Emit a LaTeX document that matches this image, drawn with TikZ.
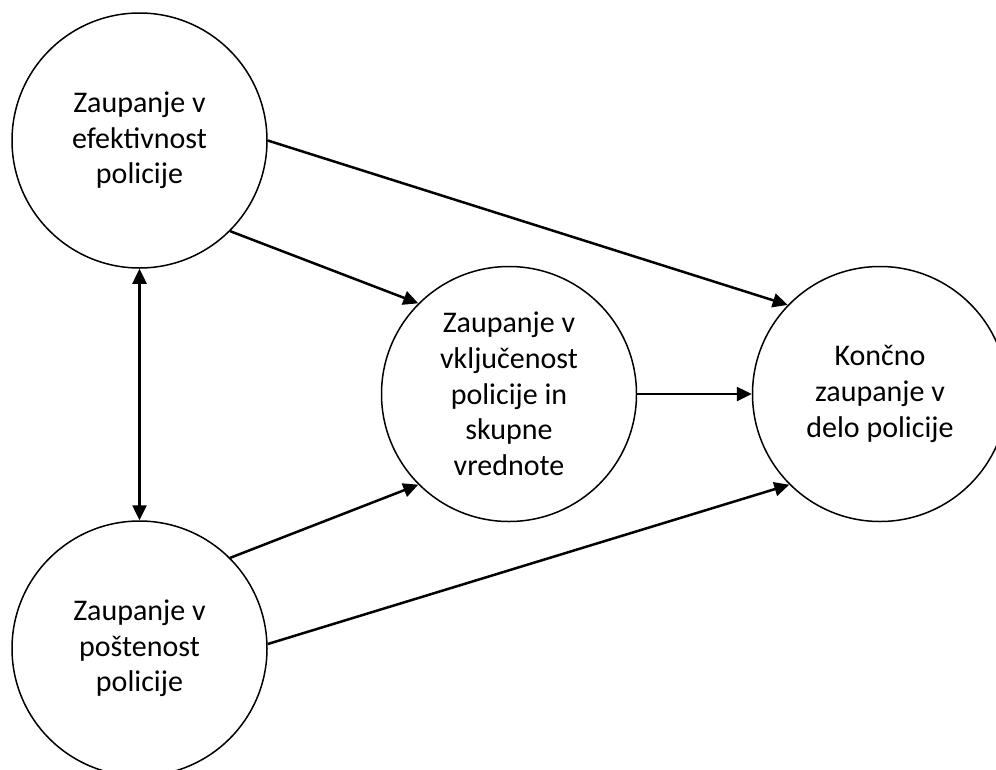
\documentclass[tikz,border=0pt]{standalone}
\usepackage{fontspec}
\setmainfont{Carlito}
\usetikzlibrary{arrows.meta}
\begin{document}
\begin{tikzpicture}[x=1pt,y=-1pt,
  factor/.style={circle,draw,line width=1.5pt,minimum size=255pt,inner sep=0pt,
    align=center,font=\fontsize{30}{35.7}\selectfont},
  link/.style={line width=2.5pt,-{Triangle[length=15pt,width=14pt]}},
  both/.style={line width=2.5pt,{Triangle[length=15pt,width=14pt]}-{Triangle[length=15pt,width=14pt]}}]
  \useasboundingbox (0,0) rectangle (996,769);
  \clip (0,0) rectangle (996,769);
  \fill[white] (0,0) rectangle (996,769);

  \node[factor] (eff) at (139.5,140.5) {Zaupanje v\\efektivnost\\policije};
  \node[factor] (post) at (139.5,648.5) {Zaupanje v\\poštenost\\policije};
  \node[factor] (vklj) at (509,394) {Zaupanje v\\vključenost\\policije in\\skupne\\vrednote};
  \node[factor] (konc) at (880,394) {Končno\\zaupanje v\\delo policije};

  \draw[link] (eff.0) -- (konc.136);
  \draw[link] (eff.-45) -- (vklj.135);
  \draw[link] (vklj.east) -- (konc.west);
  \draw[link] (post.45) -- (vklj.-135);
  \draw[link] (post.2) -- (konc.-135);
  \draw[both] (eff.south) -- (post.north);
\end{tikzpicture}
\end{document}
